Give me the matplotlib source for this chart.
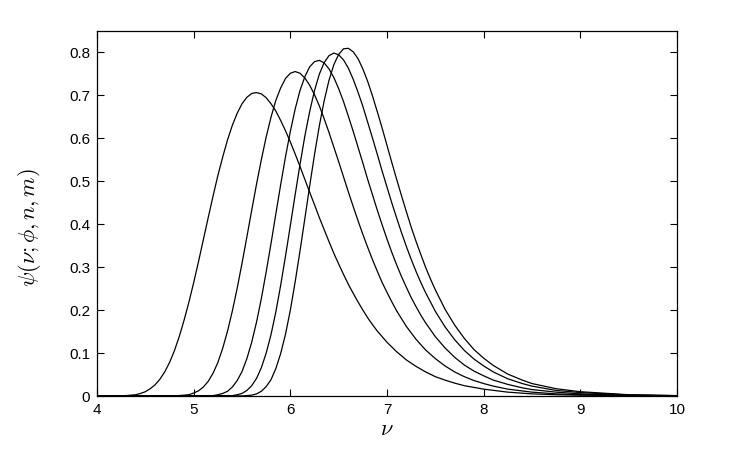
"""Five psi(nu; phi, n, m) curves, MATLAB-style line plot."""
import matplotlib
matplotlib.use("Agg")
import matplotlib.pyplot as plt
from matplotlib.ticker import FixedLocator, FuncFormatter

OUT_PNG = "out.png"

# curve values (nu, psi)
NU_1 = [4.0, 4.3, 4.35, 4.4, 4.45, 4.5, 4.55, 4.6, 4.65, 4.7, 4.75, 4.8, 4.85,
        4.9, 4.95, 5.0, 5.05, 5.1, 5.15, 5.2, 5.25, 5.3, 5.35, 5.4, 5.45, 5.5,
        5.55, 5.6, 5.65, 5.7, 5.75, 5.8, 5.85, 5.9, 5.95, 6.0, 6.05, 6.1, 6.15,
        6.2, 6.25, 6.3, 6.35, 6.4, 6.45, 6.5, 6.55, 6.6, 6.65, 6.7, 6.75, 6.8,
        6.85, 6.9, 6.95, 7.0, 7.1, 7.2, 7.3, 7.4, 7.5, 7.6, 7.7, 7.8, 8.0, 8.25,
        8.5, 8.75, 9.0, 9.5, 10.0]
PSI_1 = [0.0, 0.001, 0.002, 0.003, 0.006, 0.010, 0.017, 0.026, 0.039, 0.056,
         0.078, 0.105, 0.138, 0.176, 0.218, 0.264, 0.313, 0.364, 0.415, 0.465,
         0.513, 0.556, 0.596, 0.630, 0.658, 0.680, 0.695, 0.704, 0.706, 0.703,
         0.694, 0.680, 0.663, 0.641, 0.617, 0.591, 0.563, 0.534, 0.504, 0.474,
         0.445, 0.415, 0.387, 0.359, 0.332, 0.307, 0.283, 0.260, 0.239, 0.219,
         0.200, 0.182, 0.166, 0.151, 0.138, 0.125, 0.103, 0.084, 0.069, 0.056,
         0.045, 0.037, 0.030, 0.024, 0.016, 0.009, 0.005, 0.003, 0.002, 0.001,
         0.0]

NU_2 = [4.0, 4.8, 4.9, 4.95, 5.0, 5.05, 5.1, 5.15, 5.2, 5.25, 5.3, 5.35, 5.4,
        5.45, 5.5, 5.55, 5.6, 5.65, 5.7, 5.75, 5.8, 5.85, 5.9, 5.95, 6.0, 6.05,
        6.1, 6.15, 6.2, 6.25, 6.3, 6.35, 6.4, 6.45, 6.5, 6.55, 6.6, 6.65, 6.7,
        6.75, 6.8, 6.85, 6.9, 6.95, 7.0, 7.05, 7.1, 7.15, 7.2, 7.3, 7.4, 7.5,
        7.6, 7.7, 7.8, 7.9, 8.0, 8.1, 8.25, 8.5, 8.75, 9.0, 9.5, 10.0]
PSI_2 = [0.0, 0.0003, 0.002, 0.003, 0.007, 0.012, 0.021, 0.034, 0.053, 0.078,
         0.111, 0.151, 0.198, 0.251, 0.309, 0.370, 0.432, 0.493, 0.550, 0.603,
         0.649, 0.688, 0.717, 0.739, 0.751, 0.755, 0.751, 0.740, 0.723, 0.701,
         0.675, 0.645, 0.613, 0.579, 0.545, 0.510, 0.475, 0.441, 0.408, 0.376,
         0.346, 0.317, 0.290, 0.264, 0.241, 0.219, 0.198, 0.180, 0.162, 0.132,
         0.107, 0.087, 0.070, 0.056, 0.045, 0.036, 0.029, 0.023, 0.016, 0.009,
         0.005, 0.003, 0.001, 0.0003]

NU_3 = [4.0, 5.2, 5.25, 5.3, 5.35, 5.4, 5.45, 5.5, 5.55, 5.6, 5.65, 5.7, 5.75,
        5.8, 5.85, 5.9, 5.95, 6.0, 6.05, 6.1, 6.15, 6.2, 6.25, 6.3, 6.35, 6.4,
        6.45, 6.5, 6.55, 6.6, 6.65, 6.7, 6.75, 6.8, 6.85, 6.9, 6.95, 7.0, 7.05,
        7.1, 7.15, 7.2, 7.25, 7.3, 7.35, 7.4, 7.5, 7.6, 7.7, 7.8, 7.9, 8.0,
        8.1, 8.25, 8.4, 8.5, 8.75, 9.0, 9.5, 10.0]
PSI_3 = [0.0, 0.001, 0.003, 0.006, 0.011, 0.021, 0.036, 0.057, 0.087, 0.125,
         0.172, 0.227, 0.289, 0.355, 0.424, 0.492, 0.557, 0.616, 0.668, 0.711,
         0.743, 0.766, 0.778, 0.781, 0.775, 0.761, 0.741, 0.715, 0.685, 0.651,
         0.616, 0.579, 0.542, 0.504, 0.468, 0.432, 0.398, 0.365, 0.334, 0.305,
         0.278, 0.253, 0.229, 0.208, 0.188, 0.170, 0.138, 0.112, 0.090, 0.072,
         0.058, 0.047, 0.037, 0.027, 0.019, 0.015, 0.009, 0.005, 0.0015,
         0.0005]

NU_4 = [4.0, 5.4, 5.45, 5.5, 5.55, 5.6, 5.65, 5.7, 5.75, 5.8, 5.85, 5.9, 5.95,
        6.0, 6.05, 6.1, 6.15, 6.2, 6.25, 6.3, 6.35, 6.4, 6.45, 6.5, 6.55, 6.6,
        6.65, 6.7, 6.75, 6.8, 6.85, 6.9, 6.95, 7.0, 7.05, 7.1, 7.15, 7.2, 7.25,
        7.3, 7.35, 7.4, 7.5, 7.6, 7.7, 7.8, 7.9, 8.0, 8.1, 8.25, 8.4, 8.5,
        8.75, 9.0, 9.5, 10.0]
PSI_4 = [0.0, 0.001, 0.003, 0.006, 0.013, 0.024, 0.041, 0.066, 0.100, 0.143,
         0.196, 0.258, 0.326, 0.397, 0.469, 0.539, 0.605, 0.662, 0.711, 0.749,
         0.776, 0.792, 0.798, 0.794, 0.782, 0.763, 0.737, 0.707, 0.674, 0.637,
         0.600, 0.562, 0.523, 0.486, 0.449, 0.414, 0.380, 0.348, 0.318, 0.290,
         0.264, 0.240, 0.197, 0.161, 0.131, 0.106, 0.086, 0.070, 0.056, 0.040,
         0.029, 0.023, 0.013, 0.008, 0.0025, 0.0008]

NU_5 = [4.0, 5.5, 5.55, 5.6, 5.65, 5.7, 5.75, 5.8, 5.85, 5.9, 5.95, 6.0, 6.05,
        6.1, 6.15, 6.2, 6.25, 6.3, 6.35, 6.4, 6.45, 6.5, 6.55, 6.6, 6.65, 6.7,
        6.75, 6.8, 6.85, 6.9, 6.95, 7.0, 7.05, 7.1, 7.15, 7.2, 7.25, 7.3, 7.35,
        7.4, 7.45, 7.5, 7.6, 7.7, 7.8, 7.9, 8.0, 8.1, 8.25, 8.4, 8.5, 8.75,
        9.0, 9.5, 10.0]
PSI_5 = [0.0, 0.0003, 0.001, 0.002, 0.005, 0.011, 0.022, 0.038, 0.064, 0.099,
         0.144, 0.200, 0.266, 0.338, 0.413, 0.489, 0.562, 0.629, 0.687, 0.735,
         0.771, 0.795, 0.808, 0.809, 0.801, 0.785, 0.761, 0.732, 0.698, 0.661,
         0.623, 0.583, 0.543, 0.504, 0.466, 0.429, 0.393, 0.360, 0.329, 0.299,
         0.272, 0.247, 0.202, 0.165, 0.134, 0.108, 0.088, 0.071, 0.051, 0.037,
         0.029, 0.017, 0.010, 0.003, 0.001]

X_TICKS = [4, 5, 6, 7, 8, 9, 10]
Y_TICKS = [0, 0.1, 0.2, 0.3, 0.4, 0.5, 0.6, 0.7, 0.8]


def fmt_tick(v, _pos):
    return "0" if v == 0 else f"{v:g}"


def main():
    plt.rcParams["font.family"] = ["Liberation Sans", "DejaVu Sans"]
    plt.rcParams["mathtext.fontset"] = "cm"

    fig = plt.figure(figsize=(7.47, 4.49), dpi=100)
    ax = fig.add_axes([0.1299, 0.118, 0.7764, 0.8136])

    for nu, psi in [(NU_1, PSI_1), (NU_2, PSI_2), (NU_3, PSI_3),
                    (NU_4, PSI_4), (NU_5, PSI_5)]:
        ax.plot(nu, psi, color="black", linewidth=0.9)

    ax.set_xlim(4, 10)
    ax.set_ylim(0, 0.85)
    ax.xaxis.set_major_locator(FixedLocator(X_TICKS))
    ax.yaxis.set_major_locator(FixedLocator(Y_TICKS))
    ax.yaxis.set_major_formatter(FuncFormatter(fmt_tick))
    ax.tick_params(direction="in", length=5, width=0.8, top=True, right=True,
                   labelsize=11, pad=5, colors="black")
    for sp in ax.spines.values():
        sp.set_linewidth(0.9)

    ax.set_xlabel(r"$\nu$", fontsize=16)
    ax.xaxis.label.set_va("center")
    ax.xaxis.set_label_coords(0.5, -0.092)
    ax.set_ylabel(r"$\psi(\nu;\phi,n,m)$", fontsize=16)
    ax.yaxis.label.set_va("center")
    ax.yaxis.set_label_coords(-0.116, 0.46)

    fig.savefig(OUT_PNG, dpi=100)


if __name__ == "__main__":
    main()
